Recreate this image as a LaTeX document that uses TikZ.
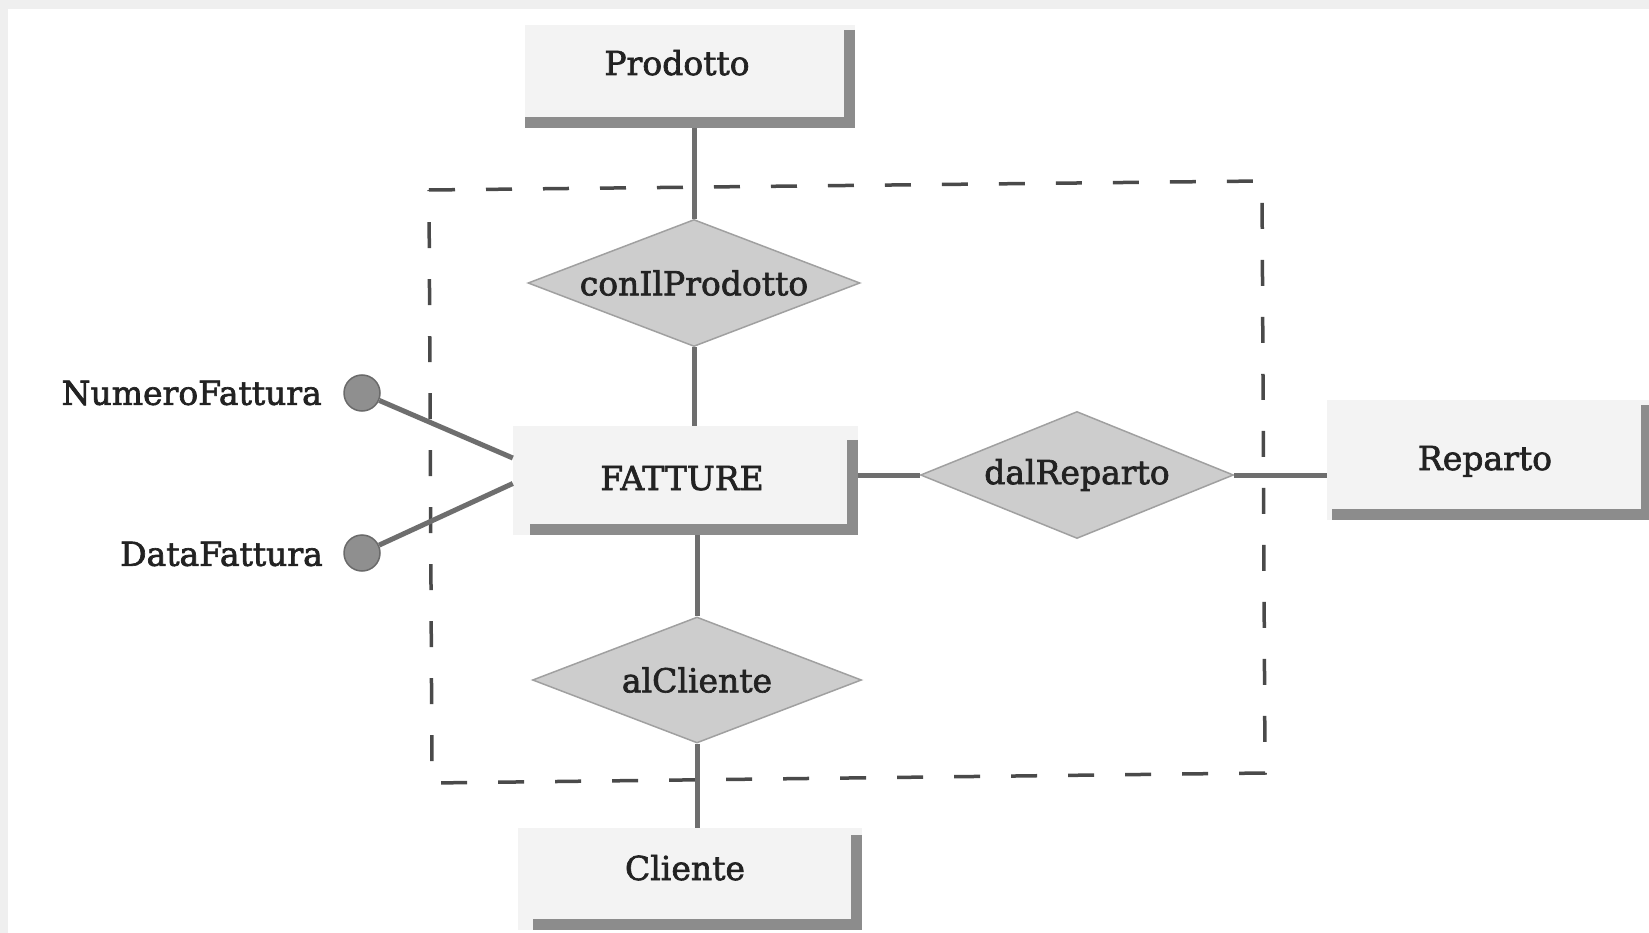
\documentclass[tikz,border=0pt]{standalone}
\usepackage{fontspec}
\setmainfont{DejaVu Serif}
\newfontfamily\erfont{DejaVu Serif}[FakeBold=2]
\usetikzlibrary{shapes.geometric}
\definecolor{txt}{HTML}{222222}
\definecolor{connc}{HTML}{6E6E6E}
\definecolor{shad}{HTML}{8C8C8C}
\definecolor{entfill}{HTML}{F3F3F3}
\definecolor{relfill}{HTML}{CDCDCD}
\definecolor{reledge}{HTML}{A0A0A0}
\definecolor{attrfill}{HTML}{8F8F8F}
\definecolor{attredge}{HTML}{6A6A6A}
\definecolor{framec}{HTML}{EFEFEF}
\definecolor{groupc}{HTML}{4A4A4A}
\begin{document}
\begin{tikzpicture}[x=1pt,y=-1pt,
  every node/.style={font=\erfont\fontsize{33}{40}\selectfont, text=txt},
  entity/.style={rectangle, fill=entfill, inner sep=0pt},
  shadowbar/.style={draw=shad, line width=11pt},
  rel/.style={diamond, aspect=2.6, fill=relfill, draw=reledge, line width=1.5pt, inner sep=0pt},
  attr/.style={circle, fill=attrfill, draw=attredge, line width=1.5pt, minimum size=36pt, inner sep=0pt},
  conn/.style={draw=connc, line width=5pt},
  group/.style={draw=groupc, line width=3.5pt, dash pattern=on 26pt off 31pt}
]
\clip (0,0) rectangle (1649,933);
\fill[white] (0,0) rectangle (1649,933);
\fill[framec] (0,0) rectangle (1649,9);
\fill[framec] (0,0) rectangle (8,933);

% grouping frame
\draw[group] (429,190) -- (1262,181) -- (1265,773) -- (432,783) -- cycle;

% entities
\node[entity, minimum width=330pt, text height=50pt, text depth=53pt] (P) at (690,76.5) {Prodotto\hspace*{26pt}};
\draw[shadowbar] ([xshift=-5.5pt,yshift=-5pt]P.north east) -- ([xshift=-5.5pt,yshift=5.5pt]P.south east) -- ([yshift=5.5pt]P.south west);

\node[entity, minimum width=345pt, text height=64pt, text depth=45pt] (F) at (685.5,480.5) {FATTURE\hspace*{7pt}};
\draw[shadowbar] ([xshift=-5.5pt,yshift=-14pt]F.north east) -- ([xshift=-5.5pt,yshift=5.5pt]F.south east) -- ([xshift=17pt,yshift=5.5pt]F.south west);

\node[entity, minimum width=344pt, text height=52pt, text depth=50pt] (Cl) at (690,879) {Cliente\hspace*{10pt}};
\draw[shadowbar] ([xshift=-5.5pt,yshift=-7pt]Cl.north east) -- ([xshift=-5.5pt,yshift=5.5pt]Cl.south east) -- ([xshift=15pt,yshift=5.5pt]Cl.south west);

\node[entity, minimum width=325pt, text height=70pt, text depth=50pt] (R) at (1489.5,460) {Reparto\hspace*{9pt}};
\draw[shadowbar] ([xshift=-5.5pt,yshift=-5pt]R.north east) -- ([xshift=-5.5pt,yshift=5.5pt]R.south east) -- ([xshift=5pt,yshift=5.5pt]R.south west);

% relationships
\node[rel, minimum width=332pt, minimum height=127pt] (C1) at (694,283) {conIlProdotto};
\node[rel, minimum width=313pt, minimum height=127pt] (C2) at (1077,475) {dalReparto};
\node[rel, minimum width=329pt, minimum height=126pt] (C3) at (697,680) {alCliente};

% attributes
\node[attr] (nf) at (362,393) {};
\node[attr] (df) at (362,553) {};
\node[anchor=east, inner sep=0pt] (nfl) at (322,393) {NumeroFattura};
\node[anchor=east, inner sep=0pt] (dfl) at (323,554) {DataFattura};

% connectors
\draw[conn] (nf) -- ([yshift=22.5pt]F.west);
\draw[conn] (df) -- ([yshift=-3pt]F.west);
\draw[conn] (C1.north) -- (C1.north |- P.south);
\draw[conn] (C1.south) -- (C1.south |- F.north);
\draw[conn] (C3.north) -- (C3.north |- F.south);
\draw[conn] (C3.south) -- (C3.south |- Cl.north);
\draw[conn] (C2.west) -- (C2.west -| F.east);
\draw[conn] (C2.east) -- (C2.east -| R.west);
\end{tikzpicture}
\end{document}
